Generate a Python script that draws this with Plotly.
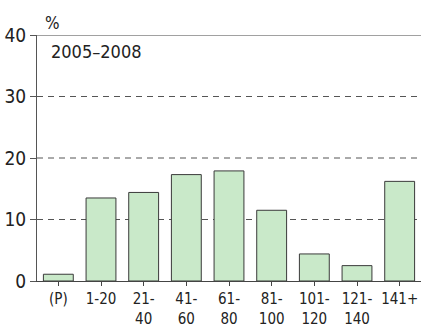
import plotly.graph_objects as go

# data
categories = ["(P)", "1-20", "21-<br>40", "41-<br>60", "61-<br>80",
              "81-<br>100", "101-<br>120", "121-<br>140", "141+"]
shares = [1.1, 13.5, 14.4, 17.3, 17.9, 11.5, 4.4, 2.5, 16.2]
y_ticks = [0, 10, 20, 30, 40]

font_name = "Liberation Sans Narrow, DejaVu Sans Condensed, Arial"
grid_col = "#555555"

fig = go.Figure()
fig.add_trace(go.Bar(
    x=categories, y=shares,
    width=0.7,
    marker=dict(color="#c9e9c9", line=dict(color="#3a3a3a", width=1)),
))

# dashed gridlines
for v in [10, 20, 30]:
    fig.add_shape(type="line", xref="paper", x0=0, x1=1, yref="y", y0=v, y1=v,
                  line=dict(color=grid_col, width=1, dash="6px,5px"), layer="below")
# solid top line
fig.add_shape(type="line", xref="paper", x0=0, x1=1, yref="y", y0=40, y1=40,
              line=dict(color="#444444", width=1.2))

fig.add_annotation(text="%", xref="paper", yref="paper", x=0.015, y=1.0,
                   xanchor="left", yanchor="bottom", showarrow=False,
                   font=dict(size=17, color="#222222", family=font_name))
fig.add_annotation(text="2005\u20132008", xref="paper", yref="paper", x=0.03, y=0.985,
                   xanchor="left", yanchor="top", showarrow=False,
                   font=dict(size=18, color="#222222", family=font_name))

fig.update_layout(
    width=421, height=328,
    margin=dict(l=37, r=0, t=35, b=47),
    paper_bgcolor="white", plot_bgcolor="white",
    showlegend=False,
    font=dict(family=font_name, size=16, color="#222222"),
)
fig.update_xaxes(
    showline=True, linecolor="#444444", linewidth=1.2,
    ticks="outside", ticklen=4, tickcolor="#444444",
    showgrid=False, tickfont=dict(size=15),
    range=[-0.5, 8.5], automargin=False,
)
fig.update_yaxes(
    range=[0, 40], tickvals=y_ticks,
    showline=True, linecolor="#555555", linewidth=1,
    ticks="outside", ticklen=6, tickcolor="#555555",
    showgrid=False, zeroline=False, automargin=False,
    tickfont=dict(size=19),
)

fig.write_html("out.html", config={"displayModeBar": False},
               post_script="document.body.style.margin='0';")
